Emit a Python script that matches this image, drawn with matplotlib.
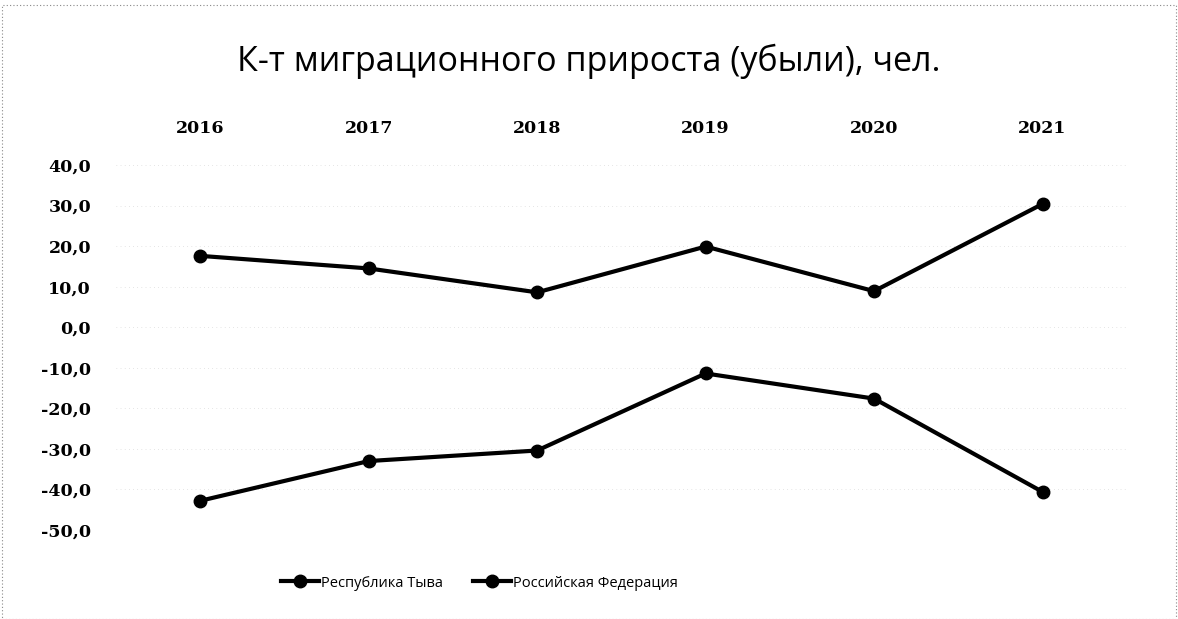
import matplotlib.pyplot as plt
from matplotlib.patches import Rectangle

years = ["2016", "2017", "2018", "2019", "2020", "2021"]
tyva = [-42.8, -33.0, -30.4, -11.4, -17.6, -40.6]
russia = [17.6, 14.5, 8.6, 19.9, 8.9, 30.4]
y_ticks = [40, 30, 20, 10, 0, -10, -20, -30, -40, -50]

fig = plt.figure(figsize=(11.78, 6.19), dpi=100)
ax = fig.add_axes([0.0985, 0.1438, 0.858, 0.5896])

x = range(len(years))
ax.plot(x, tyva, color="black", linewidth=3, marker="o", markersize=9,
        label="Республика Тыва")
ax.plot(x, russia, color="black", linewidth=3, marker="o", markersize=9,
        label="Российская Федерация")

ax.set_xlim(-0.5, len(years) - 0.5)
ax.set_ylim(-50, 40)
ax.set_yticks(y_ticks)
ax.set_yticklabels([f"{v:.1f}".replace(".", ",") for v in y_ticks],
                   fontfamily="DejaVu Serif", fontweight="bold", fontsize=12.5)
ax.set_xticks(list(x))
ax.set_xticklabels(years, fontfamily="DejaVu Serif", fontweight="bold", fontsize=12.5)
ax.xaxis.tick_top()
ax.tick_params(axis="both", length=0)
ax.tick_params(axis="x", pad=20)
ax.tick_params(axis="y", pad=18)
for s in ax.spines.values():
    s.set_visible(False)
ax.grid(axis="y", color="#cccccc", linestyle=(0, (1, 5)), linewidth=0.5)

fig.suptitle("К-т миграционного прироста (убыли), чел.", y=0.93,
             fontfamily="Open Sans", fontsize=24.5)

fig.legend(loc="center", bbox_to_anchor=(0.407, 0.058), ncol=2, frameon=False,
           prop={"family": "Open Sans", "size": 10.5}, handlelength=2.6,
           columnspacing=2.0, handletextpad=0.2)

fig.patches.append(Rectangle((0.002, 0.0), 0.996, 0.992, transform=fig.transFigure,
                             fill=False, edgecolor="#888888", linestyle=(0, (1, 2)),
                             linewidth=0.8))

fig.savefig("out.png", dpi=100, facecolor="white")
